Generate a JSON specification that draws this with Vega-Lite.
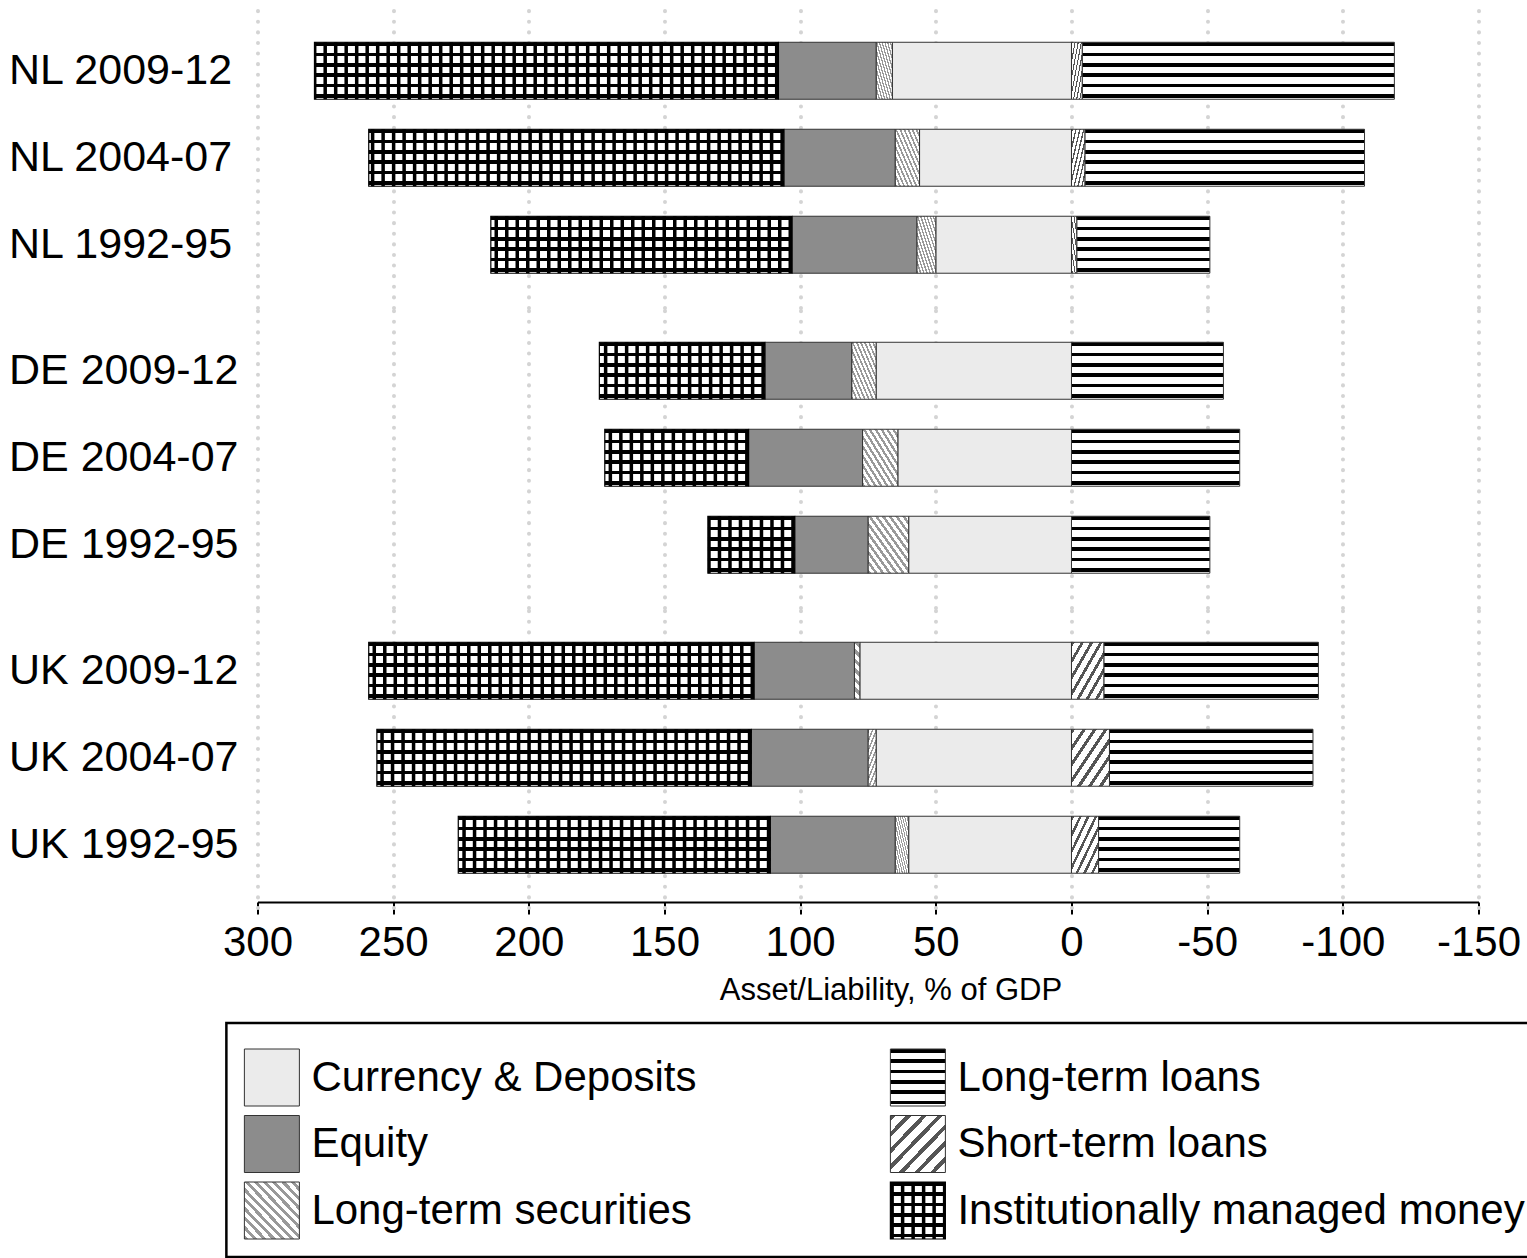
{
  "$schema": "https://vega.github.io/schema/vega-lite/v6.json",
  "padding": {"left": 8, "top": 8, "right": 0, "bottom": 0},
  "background": "white",
  "config": {
    "font": "Liberation Sans",
    "view": {"stroke": null}
  },
  "datasets": {
    "bars": [
      {"label": "NL 2009-12", "country": "NL", "cat": "Currency & Deposits", "value": 66},
      {"label": "NL 2009-12", "country": "NL", "cat": "Long-term securities", "value": 6},
      {"label": "NL 2009-12", "country": "NL", "cat": "Equity", "value": 36},
      {"label": "NL 2009-12", "country": "NL", "cat": "Institutionally managed money", "value": 171},
      {"label": "NL 2009-12", "country": "NL", "cat": "Short-term loans", "value": -4},
      {"label": "NL 2009-12", "country": "NL", "cat": "Long-term loans", "value": -115},
      {"label": "NL 2004-07", "country": "NL", "cat": "Currency & Deposits", "value": 56},
      {"label": "NL 2004-07", "country": "NL", "cat": "Long-term securities", "value": 9},
      {"label": "NL 2004-07", "country": "NL", "cat": "Equity", "value": 41},
      {"label": "NL 2004-07", "country": "NL", "cat": "Institutionally managed money", "value": 153},
      {"label": "NL 2004-07", "country": "NL", "cat": "Short-term loans", "value": -5},
      {"label": "NL 2004-07", "country": "NL", "cat": "Long-term loans", "value": -103},
      {"label": "NL 1992-95", "country": "NL", "cat": "Currency & Deposits", "value": 50},
      {"label": "NL 1992-95", "country": "NL", "cat": "Long-term securities", "value": 7},
      {"label": "NL 1992-95", "country": "NL", "cat": "Equity", "value": 46},
      {"label": "NL 1992-95", "country": "NL", "cat": "Institutionally managed money", "value": 111},
      {"label": "NL 1992-95", "country": "NL", "cat": "Short-term loans", "value": -2},
      {"label": "NL 1992-95", "country": "NL", "cat": "Long-term loans", "value": -49},
      {"label": "DE 2009-12", "country": "DE", "cat": "Currency & Deposits", "value": 72},
      {"label": "DE 2009-12", "country": "DE", "cat": "Long-term securities", "value": 9},
      {"label": "DE 2009-12", "country": "DE", "cat": "Equity", "value": 32},
      {"label": "DE 2009-12", "country": "DE", "cat": "Institutionally managed money", "value": 61},
      {"label": "DE 2009-12", "country": "DE", "cat": "Long-term loans", "value": -56},
      {"label": "DE 2004-07", "country": "DE", "cat": "Currency & Deposits", "value": 64},
      {"label": "DE 2004-07", "country": "DE", "cat": "Long-term securities", "value": 13},
      {"label": "DE 2004-07", "country": "DE", "cat": "Equity", "value": 42},
      {"label": "DE 2004-07", "country": "DE", "cat": "Institutionally managed money", "value": 53},
      {"label": "DE 2004-07", "country": "DE", "cat": "Long-term loans", "value": -62},
      {"label": "DE 1992-95", "country": "DE", "cat": "Currency & Deposits", "value": 60},
      {"label": "DE 1992-95", "country": "DE", "cat": "Long-term securities", "value": 15},
      {"label": "DE 1992-95", "country": "DE", "cat": "Equity", "value": 27},
      {"label": "DE 1992-95", "country": "DE", "cat": "Institutionally managed money", "value": 32},
      {"label": "DE 1992-95", "country": "DE", "cat": "Long-term loans", "value": -51},
      {"label": "UK 2009-12", "country": "UK", "cat": "Currency & Deposits", "value": 78},
      {"label": "UK 2009-12", "country": "UK", "cat": "Long-term securities", "value": 2},
      {"label": "UK 2009-12", "country": "UK", "cat": "Equity", "value": 37},
      {"label": "UK 2009-12", "country": "UK", "cat": "Institutionally managed money", "value": 142},
      {"label": "UK 2009-12", "country": "UK", "cat": "Short-term loans", "value": -12},
      {"label": "UK 2009-12", "country": "UK", "cat": "Long-term loans", "value": -79},
      {"label": "UK 2004-07", "country": "UK", "cat": "Currency & Deposits", "value": 72},
      {"label": "UK 2004-07", "country": "UK", "cat": "Long-term securities", "value": 3},
      {"label": "UK 2004-07", "country": "UK", "cat": "Equity", "value": 43},
      {"label": "UK 2004-07", "country": "UK", "cat": "Institutionally managed money", "value": 138},
      {"label": "UK 2004-07", "country": "UK", "cat": "Short-term loans", "value": -14},
      {"label": "UK 2004-07", "country": "UK", "cat": "Long-term loans", "value": -75},
      {"label": "UK 1992-95", "country": "UK", "cat": "Currency & Deposits", "value": 60},
      {"label": "UK 1992-95", "country": "UK", "cat": "Long-term securities", "value": 5},
      {"label": "UK 1992-95", "country": "UK", "cat": "Equity", "value": 46},
      {"label": "UK 1992-95", "country": "UK", "cat": "Institutionally managed money", "value": 115},
      {"label": "UK 1992-95", "country": "UK", "cat": "Short-term loans", "value": -10},
      {"label": "UK 1992-95", "country": "UK", "cat": "Long-term loans", "value": -52}
    ],
    "legend": [
      {"name": "Currency & Deposits", "col": "L", "row": 1},
      {"name": "Equity", "col": "L", "row": 2},
      {"name": "Long-term securities", "col": "L", "row": 3},
      {"name": "Long-term loans", "col": "R", "row": 1},
      {"name": "Short-term loans", "col": "R", "row": 2},
      {"name": "Institutionally managed money", "col": "R", "row": 3}
    ]
  },
  "resolve": {"scale": {"x": "independent", "y": "independent"}},
  "spacing": 16,
  "center": true,
  "vconcat": [
    {
      "data": {"name": "bars"},
      "transform": [{"stack": "value", "groupby": ["label"], "as": ["v0", "v1"]}],
      "facet": {"row": {"field": "country", "type": "nominal", "sort": ["NL", "DE", "UK"], "header": {"title": null, "labels": false}}},
      "spacing": 0,
      "resolve": {"scale": {"y": "independent"}},
      "spec": {
        "width": 1221,
        "height": 299.5,
        "encoding": {
          "x": {
            "field": "v0", "type": "quantitative",
            "scale": {"domain": [-150, 300], "reverse": true, "nice": false, "zero": false},
            "axis": {
              "values": [300, 250, 200, 150, 100, 50, 0, -50, -100, -150],
              "labelExpr": "'' + datum.value",
              "labelFontSize": 42, "labelColor": "black", "labelPadding": 8,
              "labelFlush": false, "labelOverlap": false,
              "domainColor": "black", "domainWidth": 2,
              "tickColor": "black", "tickWidth": 2, "tickSize": 12,
              "offset": -6,
              "grid": true, "gridColor": "#d4d4d4", "gridWidth": 4, "gridDash": [0.1, 10.5], "gridCap": "round",
              "title": "Asset/Liability, % of GDP", "titleFontSize": 31, "titleFontWeight": "normal",
              "titleColor": "black", "titlePadding": 12, "titleX": 633
            }
          },
          "x2": {"field": "v1"},
          "y": {
            "field": "label", "type": "nominal",
            "sort": ["NL 2009-12", "NL 2004-07", "NL 1992-95", "DE 2009-12", "DE 2004-07", "DE 1992-95", "UK 2009-12", "UK 2004-07", "UK 1992-95"],
            "scale": {"paddingInner": 0.3448, "paddingOuter": 0.394, "round": false},
            "axis": {
              "title": null, "domain": false, "ticks": false, "tickSize": 0, "grid": false,
              "labelAlign": "left", "labelPadding": 249, "labelFontSize": 43,
              "labelColor": "black", "labelLimit": 0
            }
          }
        },
        "layer": [
          {
            "transform": [{"filter": "datum.cat === 'Currency & Deposits'"}],
            "mark": {"type": "bar", "fill": "#ebebeb", "stroke": "#333333", "strokeWidth": 1}
          },
          {
            "transform": [{"filter": "datum.cat === 'Long-term securities'"}],
            "mark": {"type": "bar", "stroke": "#333333", "strokeWidth": 1,
              "fill": {"gradient": "linear", "x1": 0, "y1": 1, "x2": 1, "y2": 0, "stops": [
                {"offset": 0, "color": "#999999"}, {"offset": 0.0375, "color": "#999999"}, {"offset": 0.0375, "color": "#ffffff"}, {"offset": 0.0833, "color": "#ffffff"},
                {"offset": 0.0833, "color": "#999999"}, {"offset": 0.1208, "color": "#999999"}, {"offset": 0.1208, "color": "#ffffff"}, {"offset": 0.1667, "color": "#ffffff"},
                {"offset": 0.1667, "color": "#999999"}, {"offset": 0.2042, "color": "#999999"}, {"offset": 0.2042, "color": "#ffffff"}, {"offset": 0.25, "color": "#ffffff"},
                {"offset": 0.25, "color": "#999999"}, {"offset": 0.2875, "color": "#999999"}, {"offset": 0.2875, "color": "#ffffff"}, {"offset": 0.3333, "color": "#ffffff"},
                {"offset": 0.3333, "color": "#999999"}, {"offset": 0.3708, "color": "#999999"}, {"offset": 0.3708, "color": "#ffffff"}, {"offset": 0.4167, "color": "#ffffff"},
                {"offset": 0.4167, "color": "#999999"}, {"offset": 0.4542, "color": "#999999"}, {"offset": 0.4542, "color": "#ffffff"}, {"offset": 0.5, "color": "#ffffff"},
                {"offset": 0.5, "color": "#999999"}, {"offset": 0.5375, "color": "#999999"}, {"offset": 0.5375, "color": "#ffffff"}, {"offset": 0.5833, "color": "#ffffff"},
                {"offset": 0.5833, "color": "#999999"}, {"offset": 0.6208, "color": "#999999"}, {"offset": 0.6208, "color": "#ffffff"}, {"offset": 0.6667, "color": "#ffffff"},
                {"offset": 0.6667, "color": "#999999"}, {"offset": 0.7042, "color": "#999999"}, {"offset": 0.7042, "color": "#ffffff"}, {"offset": 0.75, "color": "#ffffff"},
                {"offset": 0.75, "color": "#999999"}, {"offset": 0.7875, "color": "#999999"}, {"offset": 0.7875, "color": "#ffffff"}, {"offset": 0.8333, "color": "#ffffff"},
                {"offset": 0.8333, "color": "#999999"}, {"offset": 0.8708, "color": "#999999"}, {"offset": 0.8708, "color": "#ffffff"}, {"offset": 0.9167, "color": "#ffffff"},
                {"offset": 0.9167, "color": "#999999"}, {"offset": 0.9542, "color": "#999999"}, {"offset": 0.9542, "color": "#ffffff"}, {"offset": 1, "color": "#ffffff"}
              ]}
            }
          },
          {
            "transform": [{"filter": "datum.cat === 'Equity'"}],
            "mark": {"type": "bar", "fill": "#8c8c8c", "stroke": "#333333", "strokeWidth": 1}
          },
          {
            "transform": [{"filter": "datum.cat === 'Institutionally managed money'"}],
            "mark": {"type": "bar", "strokeWidth": 0,
              "fill": {"gradient": "linear", "x1": 0, "y1": 0, "x2": 0, "y2": 1, "stops": [
                {"offset": 0, "color": "#000000"}, {"offset": 0.062, "color": "#000000"}, {"offset": 0.062, "color": "#ffffff"}, {"offset": 0.182, "color": "#ffffff"},
                {"offset": 0.182, "color": "#000000"}, {"offset": 0.244, "color": "#000000"}, {"offset": 0.244, "color": "#ffffff"}, {"offset": 0.364, "color": "#ffffff"},
                {"offset": 0.364, "color": "#000000"}, {"offset": 0.426, "color": "#000000"}, {"offset": 0.426, "color": "#ffffff"}, {"offset": 0.545, "color": "#ffffff"},
                {"offset": 0.545, "color": "#000000"}, {"offset": 0.607, "color": "#000000"}, {"offset": 0.607, "color": "#ffffff"}, {"offset": 0.727, "color": "#ffffff"},
                {"offset": 0.727, "color": "#000000"}, {"offset": 0.789, "color": "#000000"}, {"offset": 0.789, "color": "#ffffff"}, {"offset": 0.909, "color": "#ffffff"},
                {"offset": 0.909, "color": "#000000"}, {"offset": 0.971, "color": "#000000"}, {"offset": 0.971, "color": "#ffffff"}, {"offset": 1, "color": "#ffffff"}
              ]}
            }
          },
          {
            "transform": [{"filter": "datum.cat === 'Institutionally managed money'"}],
            "mark": {"type": "rule", "stroke": "#000000", "strokeWidth": 57, "strokeDash": [3.5, 7], "strokeCap": "butt"}
          },
          {
            "transform": [{"filter": "datum.cat === 'Institutionally managed money'"}],
            "mark": {"type": "bar", "fill": "#ffffff", "fillOpacity": 0, "stroke": "#000000", "strokeWidth": 1.2}
          },
          {
            "transform": [{"filter": "datum.cat === 'Short-term loans'"}],
            "mark": {"type": "bar", "stroke": "#333333", "strokeWidth": 1,
              "fill": {"gradient": "linear", "x1": 0, "y1": 0, "x2": 1, "y2": 1, "stops": [
                {"offset": 0, "color": "#555555"}, {"offset": 0.05, "color": "#555555"}, {"offset": 0.05, "color": "#ffffff"}, {"offset": 0.1429, "color": "#ffffff"},
                {"offset": 0.1429, "color": "#555555"}, {"offset": 0.1929, "color": "#555555"}, {"offset": 0.1929, "color": "#ffffff"}, {"offset": 0.2857, "color": "#ffffff"},
                {"offset": 0.2857, "color": "#555555"}, {"offset": 0.3357, "color": "#555555"}, {"offset": 0.3357, "color": "#ffffff"}, {"offset": 0.4286, "color": "#ffffff"},
                {"offset": 0.4286, "color": "#555555"}, {"offset": 0.4786, "color": "#555555"}, {"offset": 0.4786, "color": "#ffffff"}, {"offset": 0.5714, "color": "#ffffff"},
                {"offset": 0.5714, "color": "#555555"}, {"offset": 0.6214, "color": "#555555"}, {"offset": 0.6214, "color": "#ffffff"}, {"offset": 0.7143, "color": "#ffffff"},
                {"offset": 0.7143, "color": "#555555"}, {"offset": 0.7643, "color": "#555555"}, {"offset": 0.7643, "color": "#ffffff"}, {"offset": 0.8571, "color": "#ffffff"},
                {"offset": 0.8571, "color": "#555555"}, {"offset": 0.9071, "color": "#555555"}, {"offset": 0.9071, "color": "#ffffff"}, {"offset": 1, "color": "#ffffff"}
              ]}
            }
          },
          {
            "transform": [{"filter": "datum.cat === 'Long-term loans'"}],
            "mark": {"type": "bar", "stroke": "#333333", "strokeWidth": 1,
              "fill": {"gradient": "linear", "x1": 0, "y1": 0, "x2": 0, "y2": 1, "stops": [
                {"offset": 0, "color": "#000000"}, {"offset": 0.062, "color": "#000000"}, {"offset": 0.062, "color": "#ffffff"}, {"offset": 0.182, "color": "#ffffff"},
                {"offset": 0.182, "color": "#000000"}, {"offset": 0.244, "color": "#000000"}, {"offset": 0.244, "color": "#ffffff"}, {"offset": 0.364, "color": "#ffffff"},
                {"offset": 0.364, "color": "#000000"}, {"offset": 0.426, "color": "#000000"}, {"offset": 0.426, "color": "#ffffff"}, {"offset": 0.545, "color": "#ffffff"},
                {"offset": 0.545, "color": "#000000"}, {"offset": 0.607, "color": "#000000"}, {"offset": 0.607, "color": "#ffffff"}, {"offset": 0.727, "color": "#ffffff"},
                {"offset": 0.727, "color": "#000000"}, {"offset": 0.789, "color": "#000000"}, {"offset": 0.789, "color": "#ffffff"}, {"offset": 0.909, "color": "#ffffff"},
                {"offset": 0.909, "color": "#000000"}, {"offset": 0.971, "color": "#000000"}, {"offset": 0.971, "color": "#ffffff"}, {"offset": 1, "color": "#ffffff"}
              ]}
            }
          }
        ]
      }
    },
    {
      "data": {"name": "legend"},
      "width": 1324,
      "height": 234,
      "view": {"stroke": "#000000", "strokeWidth": 2.5},
      "encoding": {
        "x": {"field": "col", "type": "nominal",
          "scale": {"domain": ["L", "R"], "paddingInner": 0.91486, "paddingOuter": 0.4822, "align": 0.0289, "round": false},
          "axis": null},
        "y": {"field": "row", "type": "ordinal",
          "scale": {"domain": [1, 2, 3], "paddingInner": 0.14286, "paddingOuter": 0.33083, "align": 0.591, "round": false},
          "axis": null}
      },
      "layer": [
        {
          "transform": [{"filter": "datum.name === 'Currency & Deposits'"}],
          "mark": {"type": "bar", "fill": "#ebebeb", "stroke": "#333333", "strokeWidth": 1}
        },
        {
          "transform": [{"filter": "datum.name === 'Equity'"}],
          "mark": {"type": "bar", "fill": "#8c8c8c", "stroke": "#333333", "strokeWidth": 1}
        },
        {
          "transform": [{"filter": "datum.name === 'Long-term securities'"}],
          "mark": {"type": "bar", "stroke": "#333333", "strokeWidth": 1,
            "fill": {"gradient": "linear", "x1": 0, "y1": 1, "x2": 1, "y2": 0, "stops": [
              {"offset": 0, "color": "#999999"}, {"offset": 0.0375, "color": "#999999"}, {"offset": 0.0375, "color": "#ffffff"}, {"offset": 0.0833, "color": "#ffffff"},
              {"offset": 0.0833, "color": "#999999"}, {"offset": 0.1208, "color": "#999999"}, {"offset": 0.1208, "color": "#ffffff"}, {"offset": 0.1667, "color": "#ffffff"},
              {"offset": 0.1667, "color": "#999999"}, {"offset": 0.2042, "color": "#999999"}, {"offset": 0.2042, "color": "#ffffff"}, {"offset": 0.25, "color": "#ffffff"},
              {"offset": 0.25, "color": "#999999"}, {"offset": 0.2875, "color": "#999999"}, {"offset": 0.2875, "color": "#ffffff"}, {"offset": 0.3333, "color": "#ffffff"},
              {"offset": 0.3333, "color": "#999999"}, {"offset": 0.3708, "color": "#999999"}, {"offset": 0.3708, "color": "#ffffff"}, {"offset": 0.4167, "color": "#ffffff"},
              {"offset": 0.4167, "color": "#999999"}, {"offset": 0.4542, "color": "#999999"}, {"offset": 0.4542, "color": "#ffffff"}, {"offset": 0.5, "color": "#ffffff"},
              {"offset": 0.5, "color": "#999999"}, {"offset": 0.5375, "color": "#999999"}, {"offset": 0.5375, "color": "#ffffff"}, {"offset": 0.5833, "color": "#ffffff"},
              {"offset": 0.5833, "color": "#999999"}, {"offset": 0.6208, "color": "#999999"}, {"offset": 0.6208, "color": "#ffffff"}, {"offset": 0.6667, "color": "#ffffff"},
              {"offset": 0.6667, "color": "#999999"}, {"offset": 0.7042, "color": "#999999"}, {"offset": 0.7042, "color": "#ffffff"}, {"offset": 0.75, "color": "#ffffff"},
              {"offset": 0.75, "color": "#999999"}, {"offset": 0.7875, "color": "#999999"}, {"offset": 0.7875, "color": "#ffffff"}, {"offset": 0.8333, "color": "#ffffff"},
              {"offset": 0.8333, "color": "#999999"}, {"offset": 0.8708, "color": "#999999"}, {"offset": 0.8708, "color": "#ffffff"}, {"offset": 0.9167, "color": "#ffffff"},
              {"offset": 0.9167, "color": "#999999"}, {"offset": 0.9542, "color": "#999999"}, {"offset": 0.9542, "color": "#ffffff"}, {"offset": 1, "color": "#ffffff"}
            ]}
          }
        },
        {
          "transform": [{"filter": "datum.name === 'Long-term loans'"}],
          "mark": {"type": "bar", "stroke": "#333333", "strokeWidth": 1,
            "fill": {"gradient": "linear", "x1": 0, "y1": 0, "x2": 0, "y2": 1, "stops": [
              {"offset": 0, "color": "#000000"}, {"offset": 0.062, "color": "#000000"}, {"offset": 0.062, "color": "#ffffff"}, {"offset": 0.182, "color": "#ffffff"},
              {"offset": 0.182, "color": "#000000"}, {"offset": 0.244, "color": "#000000"}, {"offset": 0.244, "color": "#ffffff"}, {"offset": 0.364, "color": "#ffffff"},
              {"offset": 0.364, "color": "#000000"}, {"offset": 0.426, "color": "#000000"}, {"offset": 0.426, "color": "#ffffff"}, {"offset": 0.545, "color": "#ffffff"},
              {"offset": 0.545, "color": "#000000"}, {"offset": 0.607, "color": "#000000"}, {"offset": 0.607, "color": "#ffffff"}, {"offset": 0.727, "color": "#ffffff"},
              {"offset": 0.727, "color": "#000000"}, {"offset": 0.789, "color": "#000000"}, {"offset": 0.789, "color": "#ffffff"}, {"offset": 0.909, "color": "#ffffff"},
              {"offset": 0.909, "color": "#000000"}, {"offset": 0.971, "color": "#000000"}, {"offset": 0.971, "color": "#ffffff"}, {"offset": 1, "color": "#ffffff"}
            ]}
          }
        },
        {
          "transform": [{"filter": "datum.name === 'Short-term loans'"}],
          "mark": {"type": "bar", "stroke": "#333333", "strokeWidth": 1,
            "fill": {"gradient": "linear", "x1": 0, "y1": 0, "x2": 1, "y2": 1, "stops": [
              {"offset": 0, "color": "#555555"}, {"offset": 0.05, "color": "#555555"}, {"offset": 0.05, "color": "#ffffff"}, {"offset": 0.1429, "color": "#ffffff"},
              {"offset": 0.1429, "color": "#555555"}, {"offset": 0.1929, "color": "#555555"}, {"offset": 0.1929, "color": "#ffffff"}, {"offset": 0.2857, "color": "#ffffff"},
              {"offset": 0.2857, "color": "#555555"}, {"offset": 0.3357, "color": "#555555"}, {"offset": 0.3357, "color": "#ffffff"}, {"offset": 0.4286, "color": "#ffffff"},
              {"offset": 0.4286, "color": "#555555"}, {"offset": 0.4786, "color": "#555555"}, {"offset": 0.4786, "color": "#ffffff"}, {"offset": 0.5714, "color": "#ffffff"},
              {"offset": 0.5714, "color": "#555555"}, {"offset": 0.6214, "color": "#555555"}, {"offset": 0.6214, "color": "#ffffff"}, {"offset": 0.7143, "color": "#ffffff"},
              {"offset": 0.7143, "color": "#555555"}, {"offset": 0.7643, "color": "#555555"}, {"offset": 0.7643, "color": "#ffffff"}, {"offset": 0.8571, "color": "#ffffff"},
              {"offset": 0.8571, "color": "#555555"}, {"offset": 0.9071, "color": "#555555"}, {"offset": 0.9071, "color": "#ffffff"}, {"offset": 1, "color": "#ffffff"}
            ]}
          }
        },
        {
          "transform": [{"filter": "datum.name === 'Institutionally managed money'"}],
          "mark": {"type": "bar", "strokeWidth": 0,
            "fill": {"gradient": "linear", "x1": 0, "y1": 0, "x2": 0, "y2": 1, "stops": [
              {"offset": 0, "color": "#000000"}, {"offset": 0.062, "color": "#000000"}, {"offset": 0.062, "color": "#ffffff"}, {"offset": 0.182, "color": "#ffffff"},
              {"offset": 0.182, "color": "#000000"}, {"offset": 0.244, "color": "#000000"}, {"offset": 0.244, "color": "#ffffff"}, {"offset": 0.364, "color": "#ffffff"},
              {"offset": 0.364, "color": "#000000"}, {"offset": 0.426, "color": "#000000"}, {"offset": 0.426, "color": "#ffffff"}, {"offset": 0.545, "color": "#ffffff"},
              {"offset": 0.545, "color": "#000000"}, {"offset": 0.607, "color": "#000000"}, {"offset": 0.607, "color": "#ffffff"}, {"offset": 0.727, "color": "#ffffff"},
              {"offset": 0.727, "color": "#000000"}, {"offset": 0.789, "color": "#000000"}, {"offset": 0.789, "color": "#ffffff"}, {"offset": 0.909, "color": "#ffffff"},
              {"offset": 0.909, "color": "#000000"}, {"offset": 0.971, "color": "#000000"}, {"offset": 0.971, "color": "#ffffff"}, {"offset": 1, "color": "#ffffff"}
            ]}
          }
        },
        {
          "transform": [{"filter": "datum.name === 'Institutionally managed money'"}],
          "mark": {"type": "rule", "stroke": "#000000", "strokeWidth": 57, "strokeDash": [3.5, 7], "strokeCap": "butt"},
          "encoding": {
            "x": {"field": "col", "type": "nominal", "bandPosition": 0},
            "x2": {"field": "col", "bandPosition": 1}
          }
        },
        {
          "transform": [{"filter": "datum.name === 'Institutionally managed money'"}],
          "mark": {"type": "bar", "fill": "#ffffff", "fillOpacity": 0, "stroke": "#000000", "strokeWidth": 1.2}
        },
        {
          "mark": {"type": "text", "align": "left", "baseline": "middle", "dx": 12, "fontSize": 42, "color": "#000000"},
          "encoding": {
            "x": {"field": "col", "type": "nominal", "bandPosition": 1},
            "text": {"field": "name"}
          }
        }
      ]
    }
  ]
}
